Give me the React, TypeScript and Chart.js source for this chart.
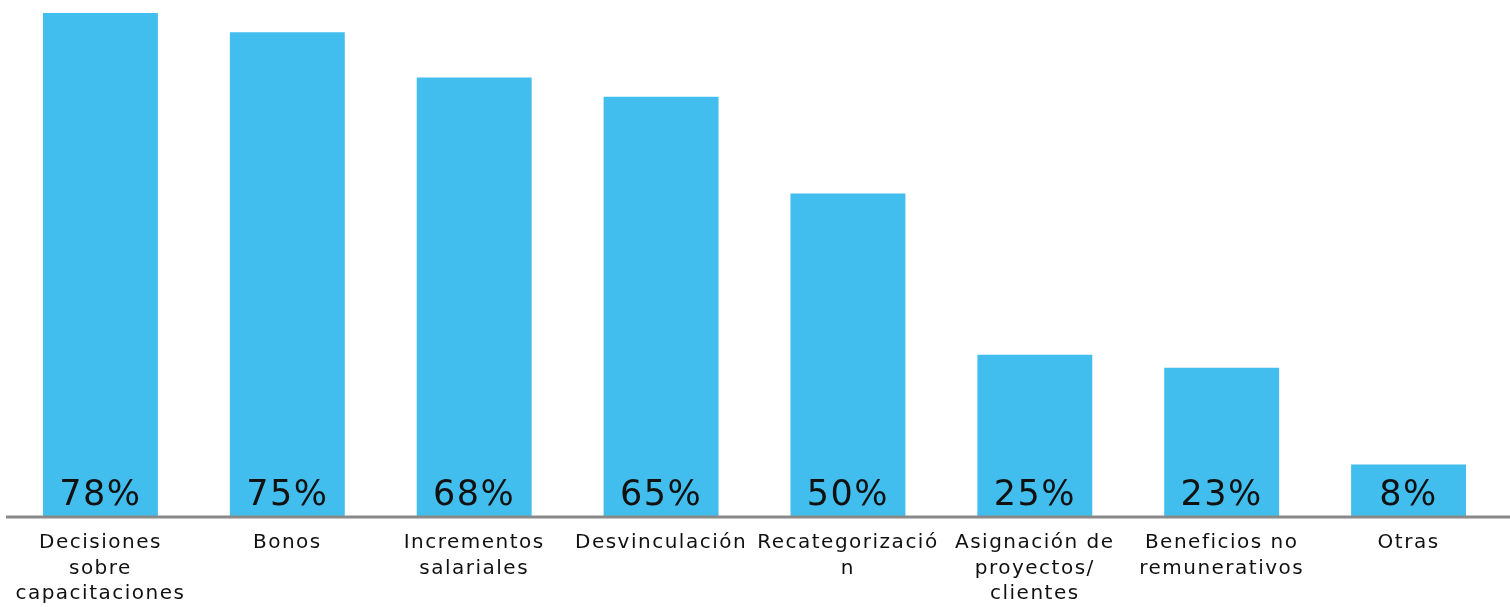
import React, { useEffect, useRef } from "react";
import { Chart, registerables } from "chart.js";

Chart.register(...registerables);

const categories: string[][] = [
  ["Decisiones", "sobre", "capacitaciones"],
  ["Bonos"],
  ["Incrementos", "salariales"],
  ["Desvinculación"],
  ["Recategorizació", "n"],
  ["Asignación de", "proyectos/", "clientes"],
  ["Beneficios no", "remunerativos"],
  ["Otras"],
];
const values: number[] = [78, 75, 68, 65, 50, 25, 23, 8];
const valueLabels: string[] = ["78%", "75%", "68%", "65%", "50%", "25%", "23%", "8%"];

const FONT = "'DejaVu Sans', sans-serif";

const spacingPlugin = {
  id: "spacing",
  beforeDraw(chart: any) {
    (chart.ctx as any).letterSpacing = "1.5px";
  },
};

const axisLinePlugin = {
  id: "axisLine",
  afterDatasetsDraw(chart: any) {
    const ctx = chart.ctx;
    const y = chart.scales.y.getPixelForValue(0);
    ctx.save();
    ctx.strokeStyle = "#898989";
    ctx.lineWidth = 3;
    ctx.beginPath();
    ctx.moveTo(6, y + 1);
    ctx.lineTo(chart.width, y + 1);
    ctx.stroke();
    ctx.restore();
  },
};

const valueLabelPlugin = {
  id: "valueLabels",
  afterDatasetsDraw(chart: any) {
    const ctx = chart.ctx;
    const meta = chart.getDatasetMeta(0);
    ctx.save();
    (ctx as any).letterSpacing = "1.5px";
    ctx.font = `35px ${FONT}`;
    ctx.fillStyle = "#111111";
    ctx.textAlign = "center";
    ctx.textBaseline = "alphabetic";
    meta.data.forEach((bar: any, i: number) => {
      ctx.fillText(valueLabels[i], bar.x, bar.base - 11);
    });
    ctx.restore();
  },
};

export default function App() {
  const ref = useRef<HTMLCanvasElement | null>(null);
  useEffect(() => {
    if (!ref.current) return;
    const chart = new Chart(ref.current, {
      type: "bar",
      data: {
        labels: categories,
        datasets: [
          {
            data: values,
            backgroundColor: "#42BEEE",
            borderWidth: 0,
            barPercentage: 0.615,
            categoryPercentage: 1,
          },
        ],
      },
      options: {
        animation: false,
        responsive: false,
        maintainAspectRatio: false,
        layout: { padding: { left: 7, right: 8, top: 0, bottom: 0 } },
        plugins: { legend: { display: false }, tooltip: { enabled: false } },
        scales: {
          y: { display: false, min: 0, max: 80 },
          x: {
            grid: { display: false, drawTicks: false },
            border: { display: false },
            afterFit: (scale: any) => {
              scale.height = 91;
            },
            ticks: {
              autoSkip: false,
              maxRotation: 0,
              minRotation: 0,
              padding: 14,
              color: "#111111",
              font: { family: FONT, size: 20, lineHeight: 1.28 },
            },
          },
        },
      },
      plugins: [spacingPlugin, axisLinePlugin, valueLabelPlugin],
    });
    return () => chart.destroy();
  }, []);
  return (
    <div style={{ position: "absolute", left: 0, top: 0, width: 1510, height: 607, background: "#fff" }}>
      <canvas ref={ref} width={1510} height={607} style={{ display: "block" }} />
    </div>
  );
}
